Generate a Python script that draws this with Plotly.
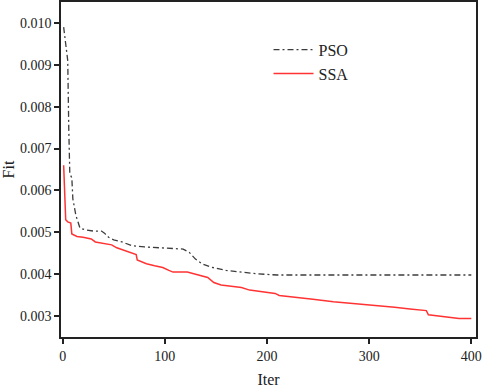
import plotly.graph_objects as go

pso_iter = [1, 5, 6, 7, 9, 10, 13, 17, 22, 30, 38, 41, 45, 50, 58, 68, 80, 100, 118, 124, 130, 137, 145, 160, 175, 190, 210, 400]
pso_fit = [0.0099, 0.0091, 0.0075, 0.0064, 0.0063, 0.0058, 0.0054, 0.0051, 0.00506, 0.00503, 0.00503, 0.00498, 0.00488,
           0.00482, 0.00477, 0.00468, 0.00465, 0.00462, 0.0046, 0.00452, 0.00436, 0.00424, 0.00417, 0.00409, 0.00405,
           0.00401, 0.00398, 0.00398]

ssa_iter = [1, 2, 3, 5, 8, 9, 14, 20, 28, 32, 40, 48, 53, 60, 68, 72, 73, 82, 90, 98, 104, 108, 122, 128, 135, 142, 148,
            155, 165, 175, 183, 195, 208, 212, 230, 245, 265, 285, 306, 325, 340, 356, 358, 372, 388, 400]
ssa_fit = [0.0066, 0.0059, 0.0053, 0.00525, 0.00522, 0.00496, 0.0049, 0.00488, 0.00484, 0.00477, 0.00474, 0.0047, 0.00463,
           0.00457, 0.00451, 0.00447, 0.00434, 0.00425, 0.0042, 0.00416, 0.00409, 0.00405, 0.00405, 0.00401, 0.00398,
           0.00392, 0.0038, 0.00374, 0.00371, 0.00368, 0.00362, 0.00358, 0.00354, 0.00349, 0.00345, 0.0034, 0.00334,
           0.0033, 0.00326, 0.00321, 0.00317, 0.00313, 0.00303, 0.00299, 0.00294, 0.00294]

x_ticks = [0, 100, 200, 300, 400]
y_ticks = [0.003, 0.004, 0.005, 0.006, 0.007, 0.008, 0.009, 0.010]
y_tick_text = ["0.003", "0.004", "0.005", "0.006", "0.007", "0.008", "0.009", "0.010"]

FONT = "Liberation Serif, Times New Roman, serif"

fig = go.Figure()
fig.add_trace(go.Scatter(x=pso_iter, y=pso_fit, mode="lines", name="PSO",
                         line=dict(color="#3c3c3c", width=1.3, dash="6px,3px,2px,3px")))
fig.add_trace(go.Scatter(x=ssa_iter, y=ssa_fit, mode="lines", name="SSA",
                         line=dict(color="#ff3333", width=1.5)))

axis_common = dict(showline=True, linecolor="#222222", linewidth=1.5, mirror=True,
                   ticks="outside", ticklen=5, tickwidth=1.5, tickcolor="#222222",
                   showgrid=False, zeroline=False, automargin=False,
                   tickfont=dict(family=FONT, size=14, color="#222222"))

fig.update_layout(
    width=484, height=388,
    margin=dict(l=61, r=8, t=2, b=51),
    paper_bgcolor="white", plot_bgcolor="white",
    font=dict(family=FONT, color="#222222"),
    xaxis=dict(range=[-1.6, 404.6], tickvals=x_ticks,
               title=dict(text="Iter", font=dict(family=FONT, size=16), standoff=11),
               **axis_common),
    yaxis=dict(range=[0.0025, 0.0105], tickvals=y_ticks, ticktext=y_tick_text,
               title=dict(text="Fit", font=dict(family=FONT, size=16), standoff=4),
               **axis_common),
    legend=dict(x=0.50, y=0.908, xanchor="left", yanchor="top",
                bgcolor="rgba(0,0,0,0)", borderwidth=0, itemwidth=40,
                font=dict(family=FONT, size=16, color="#222222"),
                tracegroupgap=0),
    showlegend=True,
)

fig.write_html("out.html", config={"displayModeBar": False},
               post_script="document.body.style.margin='0';document.body.style.overflow='hidden';")
